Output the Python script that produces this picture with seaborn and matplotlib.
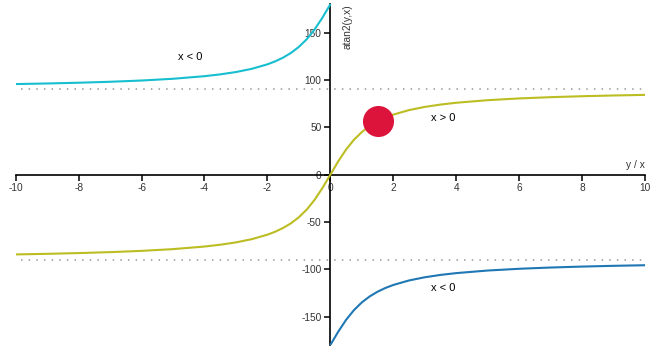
import matplotlib
matplotlib.use("Agg")
import matplotlib.pyplot as plt
import seaborn as sns
import pandas as pd

sns.set_theme(style="white")
plt.rcParams['font.family'] = ['Liberation Sans', 'DejaVu Sans']
plt.rcParams['axes.unicode_minus'] = False

# ratio y/x and atan2 values (degrees)
pos_t = [0, 0.25, 0.5, 0.75, 1, 1.25, 1.5, 1.75, 2, 2.5, 3, 3.5, 4, 5, 6, 7, 8, 9, 10]
neg_t = [-10, -9, -8, -7, -6, -5, -4, -3.5, -3, -2.5, -2, -1.75, -1.5, -1.25, -1, -0.75, -0.5, -0.25, 0]

# x > 0 branch (whole range)
xpos_t = neg_t[:-1] + pos_t
xpos_y = [-84.29, -83.66, -82.87, -81.87, -80.54, -78.69, -75.96, -74.05, -71.57, -68.20,
          -63.43, -60.26, -56.31, -51.34, -45.0, -36.87, -26.57, -14.04,
          0.0, 14.04, 26.57, 36.87, 45.0, 51.34, 56.31, 60.26, 63.43, 68.20, 71.57, 74.05,
          75.96, 78.69, 80.54, 81.87, 82.87, 83.66, 84.29]
# x < 0, y > 0 branch
upper_y = [95.71, 96.34, 97.13, 98.13, 99.46, 101.31, 104.04, 105.95, 108.43, 111.80,
           116.57, 119.74, 123.69, 128.66, 135.0, 143.13, 153.43, 165.96, 180.0]
# x < 0, y < 0 branch
lower_y = [-180.0, -165.96, -153.43, -143.13, -135.0, -128.66, -123.69, -119.74, -116.57,
           -111.80, -108.43, -105.95, -104.04, -101.31, -99.46, -98.13, -97.13, -96.34, -95.71]

asymptotes = [90, -90]
point_t, point_y = [1.5], [56.31]

x_ticks = [-10, -8, -6, -4, -2, 0, 2, 4, 6, 8, 10]
y_ticks = [-150, -100, -50, 0, 50, 100, 150]

fig = plt.figure(figsize=(6.52, 3.5), dpi=100)
ax = fig.add_axes([15.7 / 652, 5 / 350, (645 - 15.7) / 652, (345.7 - 5) / 350])

for yv in asymptotes:
    ax.axhline(yv, xmin=0.008, color='#999999', lw=1.1, linestyle=(0, (1, 4)), zorder=1)

sns.lineplot(x=xpos_t, y=xpos_y, ax=ax, color='#bcbd22', lw=1.5, sort=False, zorder=3)
sns.lineplot(x=neg_t, y=upper_y, ax=ax, color='#17becf', lw=1.5, sort=False, zorder=3)
sns.lineplot(x=pos_t, y=lower_y, ax=ax, color='#1f77b4', lw=1.5, sort=False, zorder=3)
sns.scatterplot(x=point_t, y=point_y, ax=ax, color='#dc143c', s=500, linewidth=0, zorder=4)

ax.set_xlim(-10, 10)
ax.set_ylim(-180, 180)

for s in ['top', 'right']:
    ax.spines[s].set_visible(False)
ax.spines['left'].set_position(('data', 0))
ax.spines['bottom'].set_position(('data', 0))
for s in ['left', 'bottom']:
    ax.spines[s].set_color('black')
    ax.spines[s].set_linewidth(1.2)

ax.set_xticks(x_ticks)
ax.set_xticklabels([str(v) for v in x_ticks])
ax.set_yticks(y_ticks)
ax.set_yticklabels([str(v) for v in y_ticks])
ax.set_yticks([-180, 180], minor=True)
ax.tick_params(axis='both', which='major', direction='out', length=4.3, width=1.1,
               color='black', labelsize=7.3, labelcolor='#333333', pad=2)
ax.tick_params(axis='y', which='minor', direction='out', length=4.3, width=1.1, color='black')
ax.tick_params(axis='x', bottom=True)
ax.tick_params(axis='y', left=True)

ax.text(10, 5, 'y / x', ha='right', va='bottom', fontsize=7.3, color='#333333')
ax.text(0.4, 180, 'atan2(y,x)', rotation=90, ha='left', va='top', fontsize=7.3, color='#333333')

ax.text(-4.45, 124, 'x < 0', ha='center', va='center', fontsize=8, color='black')
ax.text(3.6, 60, 'x > 0', ha='center', va='center', fontsize=8, color='black')
ax.text(3.6, -120, 'x < 0', ha='center', va='center', fontsize=8, color='black')

ax.set_xlabel('')
ax.set_ylabel('')
fig.savefig('out.png', dpi=100)
